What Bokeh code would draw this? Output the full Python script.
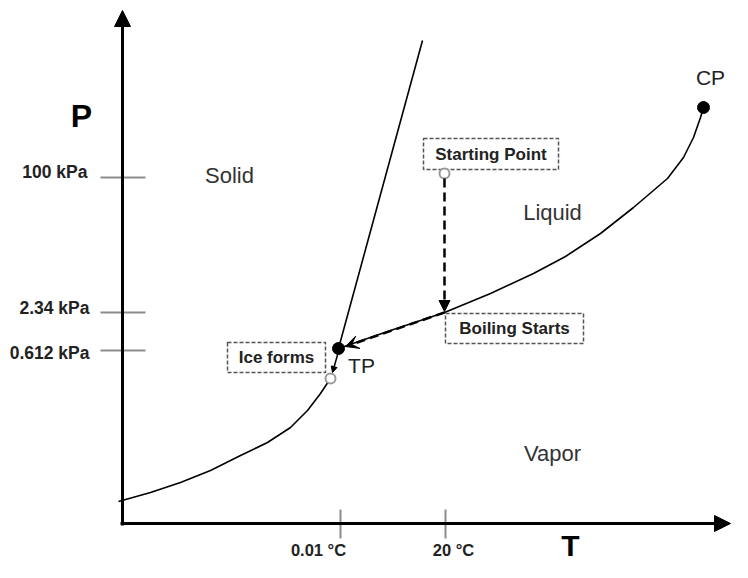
from bokeh.plotting import figure
from bokeh.models import Range1d, Arrow, NormalHead, VeeHead
from bokeh.core.properties import value
from bokeh.embed import file_html
from bokeh.resources import INLINE

# ---- Diagram data (schematic units: T to the right, P upward, origin at axes corner)
# Sublimation curve (solid / vapor boundary), ends at the "ice forms" point
sub_T = [-4, 28, 58, 88, 118, 145, 168, 185, 198, 208]
sub_P = [22, 31, 41, 53, 68, 81, 96, 113, 130, 145]
# Vaporization curve (liquid / vapor boundary), from TP to CP
vap_T = [216, 268, 322, 368, 411, 443, 478, 511, 545, 561, 571, 578, 581]
vap_P = [175, 193, 211, 230, 250, 267, 290, 316, 345, 366, 386, 406, 416]
# Melting line (solid / liquid boundary)
melt_T = [216, 300]
melt_P = [175, 483]

# Special points
tp = (216, 175)      # triple point
cp = (581, 416)      # critical point
start_pt = (322, 350)
boil_pt = (322, 211)
ice_pt = (208, 145)

# Axis tick positions and labels
p_ticks = [346, 211, 173]
p_tick_labels = ["100 kPa", "2.34 kPa", "0.612 kPa"]
t_ticks = [218, 323]
t_tick_labels = ["0.01 °C", "20 °C"]

# Region labels
region_names = ["Solid", "Liquid", "Vapor"]
region_T = [107, 430, 430]
region_P = [348, 311, 70]

# Annotation boxes
box_text = ["Starting Point", "Boiling Starts", "Ice forms"]
box_left = [301, 323, 105]
box_right = [436, 461, 203]
box_top = [385, 210, 181]
box_bottom = [354, 180, 151]

FONT = value("Liberation Sans")

p = figure(width=732, height=562, x_range=Range1d(-122, 610), y_range=Range1d(-39, 523),
           output_backend="svg", toolbar_location=None, x_axis_type=None, y_axis_type=None,
           min_border=0)
p.grid.visible = False
p.outline_line_color = None
p.background_fill_color = "white"
p.border_fill_color = "white"

# Axes as arrows
p.add_layout(Arrow(end=NormalHead(size=16, fill_color="black", line_color="black"),
                   x_start=0, y_start=-2, x_end=0, y_end=513,
                   line_width=3, line_color="black"))
p.add_layout(Arrow(end=NormalHead(size=16, fill_color="black", line_color="black"),
                   x_start=-2, y_start=0, x_end=608, y_end=0,
                   line_width=3, line_color="black"))

# Ticks
p.segment(x0=[-22] * len(p_ticks), y0=p_ticks, x1=[23] * len(p_ticks), y1=p_ticks,
          line_color="#8c8c8c", line_width=2)
p.segment(x0=t_ticks, y0=[14] * len(t_ticks), x1=t_ticks, y1=[-15] * len(t_ticks),
          line_color="#8c8c8c", line_width=2)

p.text(x=[-35, -33, -33], y=[352, 216, 171], text=p_tick_labels,
       text_align="right", text_baseline="middle", text_font=FONT,
       text_font_style="bold", text_font_size="17.5px", text_color="#222222")
p.text(x=[196, 331], y=[-26, -26], text=t_tick_labels,
       text_align="center", text_baseline="middle", text_font=FONT,
       text_font_style="bold", text_font_size="16.5px", text_color="#222222")

# Axis titles
p.text(x=[-41], y=[408], text=["P"], text_align="center", text_baseline="middle",
       text_font=FONT, text_font_style="bold", text_font_size="32px", text_color="black")
p.text(x=[448], y=[-22], text=["T"], text_align="center", text_baseline="middle",
       text_font=FONT, text_font_style="bold", text_font_size="30px", text_color="black")

# Phase boundaries
p.line(sub_T, sub_P, line_color="black", line_width=1.6)
p.line(vap_T, vap_P, line_color="black", line_width=1.6)
p.line(melt_T, melt_P, line_color="black", line_width=1.6)

# Annotation boxes
p.quad(left=box_left, right=box_right, top=box_top, bottom=box_bottom,
       fill_color="white", line_color="#555555", line_dash="4 2", line_width=1.5)
p.text(x=[(l + r) / 2 for l, r in zip(box_left, box_right)],
       y=[(t + b) / 2 for t, b in zip(box_top, box_bottom)],
       text=box_text, text_align="center", text_baseline="middle", text_font=FONT,
       text_font_style="bold", text_font_size="17px", text_color="#222222")

# Region labels
p.text(x=region_T, y=region_P, text=region_names, text_align="center",
       text_baseline="middle", text_font=FONT, text_font_size="22px", text_color="#333333")
p.text(x=[239, 588], y=[158, 446], text=["TP", "CP"], text_align="center",
       text_baseline="middle", text_font=FONT, text_font_size="21px", text_color="#222222")

# Process arrows
p.add_layout(Arrow(end=NormalHead(size=11, fill_color="black", line_color="black"),
                   x_start=start_pt[0], y_start=start_pt[1] - 5,
                   x_end=boil_pt[0], y_end=boil_pt[1] + 1,
                   line_width=2.5, line_dash="9 5", line_color="black"))
p.add_layout(Arrow(end=VeeHead(size=13, fill_color="black", line_color="black"),
                   x_start=boil_pt[0], y_start=boil_pt[1],
                   x_end=tp[0] + 7, y_end=tp[1] + 2,
                   line_width=2.5, line_dash="9 5", line_color="black"))
p.add_layout(Arrow(end=NormalHead(size=6, fill_color="black", line_color="black"),
                   x_start=tp[0], y_start=tp[1] - 3,
                   x_end=ice_pt[0] + 2, y_end=ice_pt[1] + 6,
                   line_width=1.5, line_color="black"))

# Points
p.scatter([tp[0], cp[0]], [tp[1], cp[1]], size=12, fill_color="black", line_color="black")
p.scatter([start_pt[0], ice_pt[0]], [start_pt[1], ice_pt[1]], size=10,
          fill_color="white", line_color="#999999", line_width=2)

open("out.html", "w").write(file_html(p, INLINE))
